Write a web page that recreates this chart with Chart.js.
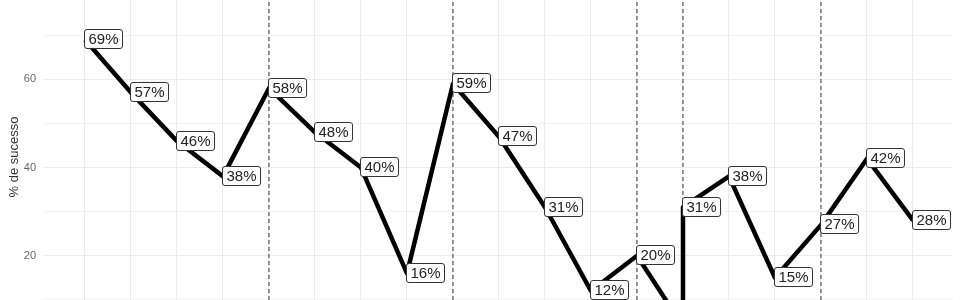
<!DOCTYPE html>
<html>
<head>
<meta charset="utf-8">
<script src="https://cdn.jsdelivr.net/npm/chart.js@4"></script>
<style>
  html, body { margin: 0; padding: 0; background: #fff; overflow: hidden; }
  #wrap { width: 960px; height: 314px; }
</style>
</head>
<body>
<div id="wrap"><canvas id="myChart" width="960" height="314"></canvas></div>
<script>
// x position of each reading (two readings share step 13)
const xSteps = [0, 1, 2, 3, 4, 5, 6, 7, 8, 9, 10, 11, 12, 13, 13, 14, 15, 16, 17, 18];
// % de sucesso per reading
const successRate = [69, 57, 46, 38, 58, 48, 40, 16, 59, 47, 31, 12, 20, 4, 31, 38, 15, 27, 42, 28];
const pointLabels = successRate.map(v => v + '%');
// dashed separators between the blocks
const separators = [4, 8, 12, 13, 16];
// grid / tick values
const xGrid = [0, 1, 2, 3, 4, 5, 6, 7, 8, 9, 10, 11, 12, 13, 14, 15, 16, 17, 18];
const yGrid = [10, 20, 30, 40, 50, 60, 70];
const yTickLabels = [20, 40, 60];

const Y_MIN = 6.78, Y_MAX = 78;

// boxed labels to the right of every point (like geom_label)
const labelPlugin = {
  id: 'pointLabels',
  afterDatasetsDraw(chart) {
    const meta = chart.getDatasetMeta(0);
    const c = chart.ctx;
    c.save();
    c.font = '15px "Liberation Sans", Arial, sans-serif';
    c.textBaseline = 'middle';
    meta.data.forEach((pt, i) => {
      const txt = pointLabels[i];
      const w = c.measureText(txt).width + 8;
      const h = 19;
      const x = Math.round(pt.x) - 0.5;
      const y = Math.round(pt.y - h / 2 - 1) + 0.5;
      c.beginPath();
      c.roundRect(x, y, w, h, 2.5);
      c.fillStyle = '#fff';
      c.fill();
      c.strokeStyle = '#333';
      c.lineWidth = 1;
      c.stroke();
      c.fillStyle = '#222';
      c.fillText(txt, x + 4, y + h / 2 + 1);
    });
    c.restore();
  }
};

const datasets = [{
  data: xSteps.map((x, i) => ({ x: x, y: successRate[i] })),
  borderColor: '#000',
  borderWidth: 4.5,
  borderJoinStyle: 'round',
  pointRadius: 0,
  tension: 0,
  order: 0
}];
separators.forEach(s => {
  datasets.push({
    data: [{ x: s, y: Y_MIN }, { x: s, y: Y_MAX }],
    borderColor: '#333',
    borderWidth: 1,
    borderDash: [4, 3],
    pointRadius: 0,
    order: 1
  });
});

const ctx = document.getElementById('myChart').getContext('2d');
const myChart = new Chart(ctx, {
  type: 'line',
  data: { datasets: datasets },
  plugins: [labelPlugin],
  options: {
    responsive: false,
    animation: false,
    layout: { padding: { left: 0, right: 7, top: 0, bottom: 0 } },
    plugins: {
      legend: { display: false },
      tooltip: { enabled: false }
    },
    scales: {
      x: {
        type: 'linear',
        min: -0.913,
        max: 18.87,
        afterBuildTicks: s => { s.ticks = xGrid.map(v => ({ value: v })); },
        afterFit: s => { s.height = 0; },
        ticks: { display: false },
        grid: { color: '#EBEBEB', lineWidth: 1, drawTicks: false },
        border: { display: false }
      },
      y: {
        min: Y_MIN,
        max: Y_MAX,
        afterBuildTicks: s => { s.ticks = yGrid.map(v => ({ value: v })); },
        afterFit: s => { s.width = 43; s.paddingTop = 0; s.paddingBottom = 0; },
        ticks: {
          callback: v => yTickLabels.includes(v) ? String(v) : '',
          color: '#666',
          padding: 7,
          font: { family: '"Liberation Sans", Arial, sans-serif', size: 11 }
        },
        grid: {
          color: c => yTickLabels.includes(c.tick.value) ? '#EBEBEB' : '#F3F3F3',
          lineWidth: 1,
          drawTicks: false
        },
        border: { display: false },
        title: {
          display: true,
          text: '% de sucesso',
          color: '#333',
          padding: { top: 7, bottom: 0 },
          font: { family: '"Liberation Sans", Arial, sans-serif', size: 13 }
        }
      }
    }
  }
});
</script>
</body>
</html>
